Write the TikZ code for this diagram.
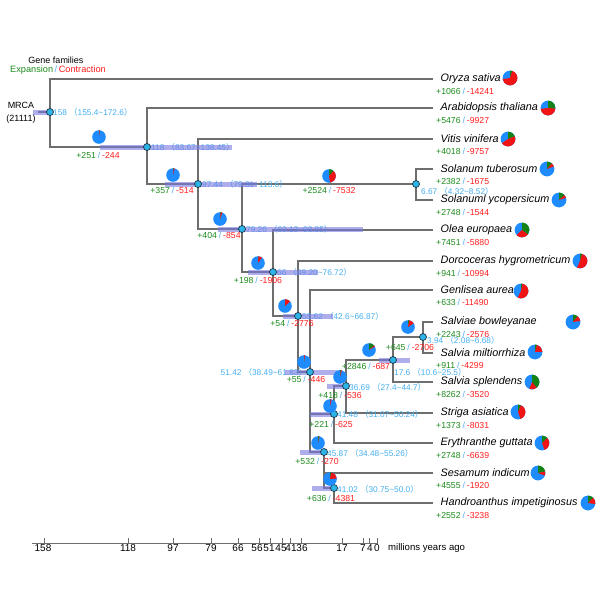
\documentclass[tikz,border=0pt]{standalone}
\usepackage{fontspec}
\setmainfont{Liberation Sans}
\newfontfamily\cjkf{Noto Sans CJK SC}
\definecolor{linecol}{RGB}{110,110,110}
\definecolor{dotfill}{RGB}{45,180,230}
\definecolor{dotdraw}{RGB}{30,50,70}
\definecolor{cicol}{RGB}{70,175,240}
\definecolor{gcol}{RGB}{30,140,30}
\definecolor{rcol}{RGB}{255,30,30}
\definecolor{scol}{RGB}{80,170,240}
\definecolor{pieblue}{RGB}{30,140,255}
\definecolor{piegreen}{RGB}{20,130,20}
\definecolor{piered}{RGB}{240,20,20}
\definecolor{barcol}{RGB}{120,120,225}
\newcommand\myLP{{\cjkf （}}
\newcommand\myRP{{\cjkf ）}}
\newcommand\gainloss[2]{\textcolor{gcol}{+#1}\hspace{0.22em}\textcolor{scol}{/}\hspace{0.22em}\textcolor{rcol}{-#2}}
\newcommand\drawpie[5]{%
  \pgfmathsetmacro\pga{0.0170527*#3}%
  \pgfmathsetmacro\pra{0.0170527*#4}%
  \fill[pieblue] (#1,#2) circle[radius=#5];
  \fill[piegreen] (#1,#2) -- ++(90:#5) arc[start angle=90,end angle=90-\pga,radius=#5] -- cycle;
  \fill[piered] (#1,#2) -- ++(90-\pga:#5) arc[start angle=90-\pga,end angle=90-\pga-\pra,radius=#5] -- cycle;
}
\tikzset{
  branch/.style={draw=linecol, line width=1.1pt},
  dotnode/.style={circle, fill=dotfill, draw=dotdraw, line width=0.7pt, minimum size=7pt, inner sep=0pt},
  tipname/.style={anchor=west, inner xsep=7.5pt, inner ysep=1pt, font=\fontsize{10.8}{12}\selectfont\itshape},
  gaintxt/.style={font=\fontsize{8.7}{10}\selectfont, inner sep=0pt},
  citxt/.style={font=\fontsize{8.3}{10}\selectfont, text=cicol, inner sep=0pt},
  cibar/.style={fill=barcol, fill opacity=0.6},
  axisline/.style={draw=linecol, line width=0.8pt},
}
\begin{document}
\begin{tikzpicture}[x=1pt,y=-1pt]
\useasboundingbox (0,0) rectangle (600,600);
\fill[white] (0,0) rectangle (600,600);

% legend
\node[font=\fontsize{9}{10}\selectfont, inner sep=0pt] (gf) at (56,60) {Gene families};
\node[font=\fontsize{9.2}{10}\selectfont, inner sep=0pt] (ec) at (58,70) {\textcolor{gcol}{Expansion}\textcolor{scol}{\,/\,}\textcolor{rcol}{Contraction}};
\node[font=\fontsize{9}{10}\selectfont, inner sep=0pt] (mrca) at (21,105) {MRCA};
\node[font=\fontsize{9}{10}\selectfont, inner sep=0pt] (mrcan) at (21,119) {(21111)};

% internal node positions
\coordinate (rootstub) at (38,112);
\coordinate (root) at (50,112);
\coordinate (n118) at (147,147);
\coordinate (n97) at (198,184);
\coordinate (n79) at (242,229);
\coordinate (n66) at (273,272);
\coordinate (n56) at (298,316);
\coordinate (n51) at (310,372);
\coordinate (n45) at (324,452);
\coordinate (n41a) at (334,414);
\coordinate (n36) at (346,386);
\coordinate (n17) at (393,360);
\coordinate (n3) at (423,337);
\coordinate (n41b) at (334,488);
\coordinate (nsol) at (416,184);

% tip names
\node[tipname] (ory) at (433,79) {Oryza sativa};
\node[tipname] (ara) at (433,108) {Arabidopsis thaliana};
\node[tipname] (vit) at (433,139) {Vitis vinifera};
\node[tipname] (stu) at (433,169) {Solanum tuberosum};
\node[tipname] (sly) at (433,200) {Solanuml ycopersicum};
\node[tipname] (ole) at (433,230) {Olea europaea};
\node[tipname] (dor) at (433,261) {Dorcoceras hygrometricum};
\node[tipname] (gen) at (433,290) {Genlisea aurea};
\node[tipname] (sbo) at (433,322) {Salviae bowleyanae};
\node[tipname] (smi) at (433,353) {Salvia miltiorrhiza};
\node[tipname] (ssp) at (433,382) {Salvia splendens};
\node[tipname] (str) at (433,413) {Striga asiatica};
\node[tipname] (ery) at (433,443) {Erythranthe guttata};
\node[tipname] (ses) at (433,473) {Sesamum indicum};
\node[tipname] (han) at (433,503) {Handroanthus impetiginosus};

% branches
\draw[branch] (rootstub) -- (root);
\draw[branch] (root) |- (ory.west);
\draw[branch] (root) |- (n118);
\draw[branch] (n118) |- (ara.west);
\draw[branch] (n118) |- (n97);
\draw[branch] (n97) |- (vit.west);
\draw[branch] (n97) |- (n79);
\draw[branch] (n79) |- (nsol);
\draw[branch] (n79) |- (n66);
\draw[branch] (nsol) |- (stu.west);
\draw[branch] (nsol) |- (sly.west);
\draw[branch] (n66) |- (ole.west);
\draw[branch] (n66) |- (n56);
\draw[branch] (n56) |- (dor.west);
\draw[branch] (n56) |- (n51);
\draw[branch] (n51) |- (gen.west);
\draw[branch] (n51) |- (n45);
\draw[branch] (n51) |- (n41a);
\draw[branch] (n45) |- (ses.west);
\draw[branch] (n45) |- (n41b);
\draw[branch] (n41a) |- (n36);
\draw[branch] (n41a) |- (ery.west);
\draw[branch] (n36) |- (n17);
\draw[branch] (n36) |- (str.west);
\draw[branch] (n17) |- (n3);
\draw[branch] (n17) |- (ssp.west);
\draw[branch] (n3) |- (sbo.west);
\draw[branch] (n3) |- (smi.west);
\draw[branch] (n41b) |- (han.west);

% node age labels
\node[citxt, anchor=west] (cir) at (53,112) {158 \myLP155.4\textasciitilde172.6\myRP};
\node[citxt, anchor=west] (ci118) at (151,147) {118 \myLP83.67\textasciitilde138.45\myRP};
\node[citxt, anchor=west] (ci97) at (202,184) {97.44 \myLP79.31\textasciitilde113.6\myRP};
\node[citxt, anchor=west] (ci79) at (246,229) {79.26 \myLP60.13\textasciitilde98.85\myRP};
\node[citxt, anchor=west] (ci66) at (277,272) {66 \myLP49.20\textasciitilde76.72\myRP};
\node[citxt, anchor=west] (ci56) at (302,316) {55.62 \myLP42.6\textasciitilde66.87\myRP};
\node[citxt, anchor=east] (ci51) at (307,372) {51.42 \myLP38.49\textasciitilde61.83\myRP};
\node[citxt, anchor=west] (ci17) at (394,372) {17.6 \myLP10.6\textasciitilde25.5\myRP};
\node[citxt, anchor=west] (ci3) at (427,340) {3.94 \myLP2.08\textasciitilde6.68\myRP};
\node[citxt, anchor=west] (cisol) at (421,191) {6.67 \myLP4.32\textasciitilde8.52\myRP};
\node[citxt, anchor=west] (ci36) at (349,387) {36.69 \myLP27.4\textasciitilde44.7\myRP};
\node[citxt, anchor=west] (ci41a) at (337,414) {41.48 \myLP31.07\textasciitilde50.24\myRP};
\node[citxt, anchor=west] (ci45) at (327,453) {45.87 \myLP34.48\textasciitilde55.26\myRP};
\node[citxt, anchor=west] (ci41b) at (337,489) {41.02 \myLP30.75\textasciitilde50.0\myRP};

% confidence bars
\fill[cibar] (33,109.5) rectangle (50,114.5);
\fill[cibar] (100,144.5) rectangle (232,149.5);
\fill[cibar] (165,181.5) rectangle (257,186.5);
\fill[cibar] (218,226.5) rectangle (363,231.5);
\fill[cibar] (248,269.5) rectangle (318,274.5);
\fill[cibar] (283,313.5) rectangle (333,318.5);
\fill[cibar] (285,369.5) rectangle (342,374.5);
\fill[cibar] (379,357.5) rectangle (410,362.5);
\fill[cibar] (327,383.5) rectangle (347,388.5);
\fill[cibar] (310,411.5) rectangle (335,416.5);
\fill[cibar] (300,449.5) rectangle (325,454.5);
\fill[cibar] (312,485.5) rectangle (335,490.5);

% node dots
\node[dotnode] (d0) at (root) {};
\node[dotnode] (d118) at (n118) {};
\node[dotnode] (d97) at (n97) {};
\node[dotnode] (d79) at (n79) {};
\node[dotnode] (d66) at (n66) {};
\node[dotnode] (d56) at (n56) {};
\node[dotnode] (d51) at (n51) {};
\node[dotnode] (d45) at (n45) {};
\node[dotnode] (d41a) at (n41a) {};
\node[dotnode] (d36) at (n36) {};
\node[dotnode] (d17) at (n17) {};
\node[dotnode] (d3) at (n3) {};
\node[dotnode] (d41b) at (n41b) {};
\node[dotnode] (dsol) at (nsol) {};

% branch gain/loss labels
\node[gaintxt] (g118) at (98,155) {\gainloss{251}{244}};
\node[gaintxt] (g97) at (172,190) {\gainloss{357}{514}};
\node[gaintxt] (gsol) at (329,190) {\gainloss{2524}{7532}};
\node[gaintxt] (g79) at (219,235) {\gainloss{404}{854}};
\node[gaintxt] (g66) at (258,280) {\gainloss{198}{1906}};
\node[gaintxt] (g56) at (292,323) {\gainloss{54}{2776}};
\node[gaintxt] (g51) at (306,379) {\gainloss{55}{446}};
\node[gaintxt] (g17) at (366,366) {\gainloss{2846}{687}};
\node[gaintxt] (g3) at (410,347) {\gainloss{645}{2706}};
\node[gaintxt] (g36) at (340,395) {\gainloss{418}{536}};
\node[gaintxt] (g41a) at (331,424) {\gainloss{221}{625}};
\node[gaintxt] (g45) at (317,461) {\gainloss{532}{270}};
\node[gaintxt] (g41b) at (331,498) {\gainloss{636}{4381}};

% tip gain/loss labels
\node[gaintxt, anchor=west] (gory) at (436,91) {\gainloss{1066}{14241}};
\node[gaintxt, anchor=west] (gara) at (436,120) {\gainloss{5476}{9927}};
\node[gaintxt, anchor=west] (gvit) at (436,151) {\gainloss{4018}{9757}};
\node[gaintxt, anchor=west] (gstu) at (436,181) {\gainloss{2382}{1675}};
\node[gaintxt, anchor=west] (gsly) at (436,212) {\gainloss{2748}{1544}};
\node[gaintxt, anchor=west] (gole) at (436,242) {\gainloss{7451}{5880}};
\node[gaintxt, anchor=west] (gdor) at (436,273) {\gainloss{941}{10994}};
\node[gaintxt, anchor=west] (ggen) at (436,302) {\gainloss{633}{11490}};
\node[gaintxt, anchor=west] (gsbo) at (436,334) {\gainloss{2243}{2576}};
\node[gaintxt, anchor=west] (gsmi) at (436,365) {\gainloss{911}{4299}};
\node[gaintxt, anchor=west] (gssp) at (436,394) {\gainloss{8262}{3520}};
\node[gaintxt, anchor=west] (gstr) at (436,425) {\gainloss{1373}{8031}};
\node[gaintxt, anchor=west] (gery) at (436,455) {\gainloss{2748}{6639}};
\node[gaintxt, anchor=west] (gses) at (436,485) {\gainloss{4555}{1920}};
\node[gaintxt, anchor=west] (ghan) at (436,515) {\gainloss{2552}{3238}};

% internal pies
\drawpie{99}{137}{251}{244}{6.8pt}
\drawpie{173}{175}{357}{514}{6.8pt}
\drawpie{329}{176}{2524}{7532}{6.8pt}
\drawpie{220}{219}{404}{854}{6.8pt}
\drawpie{258}{263}{198}{1906}{6.8pt}
\drawpie{285}{306}{54}{2776}{6.8pt}
\drawpie{304}{362}{55}{446}{6.8pt}
\drawpie{369}{350}{2846}{687}{6.8pt}
\drawpie{408}{327}{645}{2706}{6.8pt}
\drawpie{340}{377}{418}{536}{6.8pt}
\drawpie{330}{406}{221}{625}{6.8pt}
\drawpie{318}{443}{532}{270}{6.8pt}
\drawpie{330}{479}{636}{4381}{6.8pt}

% tip pies
\drawpie{510}{78}{1066}{14241}{7.4pt}
\drawpie{548}{108}{5476}{9927}{7.4pt}
\drawpie{508}{139}{4018}{9757}{7.4pt}
\drawpie{547}{169}{2382}{1675}{7.4pt}
\drawpie{559}{200}{2748}{1544}{7.4pt}
\drawpie{522}{230}{7451}{5880}{7.4pt}
\drawpie{580}{261}{941}{10994}{7.4pt}
\drawpie{521}{291}{633}{11490}{7.4pt}
\drawpie{573}{322}{2243}{2576}{7.4pt}
\drawpie{535}{352}{911}{4299}{7.4pt}
\drawpie{532}{382}{8262}{3520}{7.4pt}
\drawpie{518}{412}{1373}{8031}{7.4pt}
\drawpie{542}{443}{2748}{6639}{7.4pt}
\drawpie{538}{473}{4555}{1920}{7.4pt}
\drawpie{588}{503}{2552}{3238}{7.4pt}

% time axis
\coordinate (axL) at (32,543);
\coordinate (axR) at (378,543);
\draw[axisline] (axL) -- (axR);
\foreach \xx in {44,128,173,211,238,259,270,282,290,301,342,363,369,377}{
  \draw[axisline] (\xx,538) -- (\xx,543);
}
\foreach \xx/\lab [count=\i] in {43/158,128/118,173/97,211/79,238/66,257/56,269/51,281/45,291/41,302/36,342/17,363/7,370/4,377/0}{
  \node[font=\fontsize{10}{11}\selectfont, inner sep=0pt] (tk\i) at (\xx,548) {\lab};
}
\node[font=\fontsize{9.6}{11}\selectfont, anchor=west, inner sep=0pt] (myaxis) at (388,548) {millions years ago};
\end{tikzpicture}
\end{document}
